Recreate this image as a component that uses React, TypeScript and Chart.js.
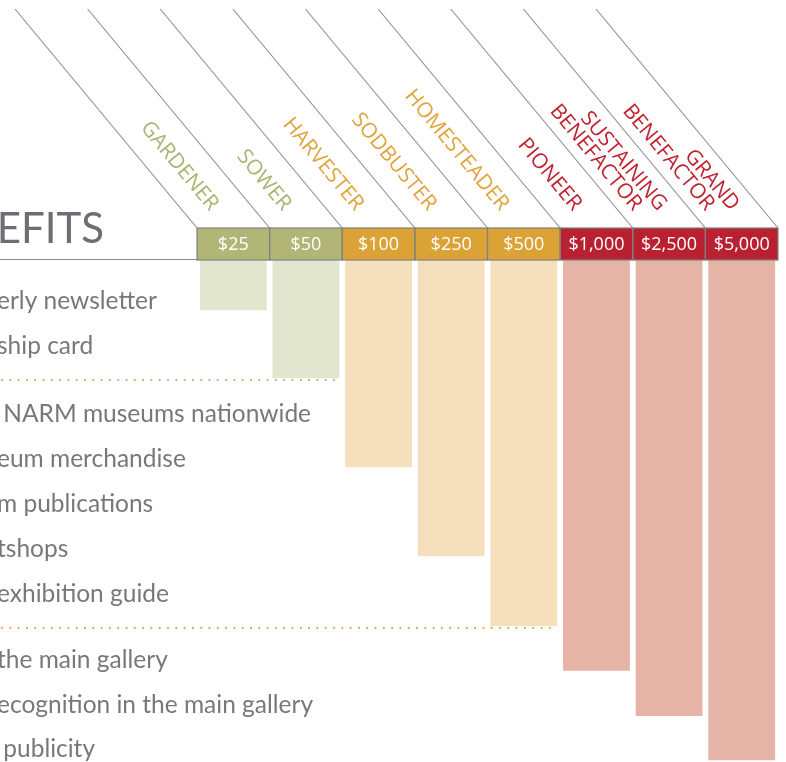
import React, { useEffect, useRef } from 'react';
import { Chart, registerables } from 'chart.js';

Chart.register(...registerables);

// ---- data ----
const tierNames = [
  'GARDENER',
  'SOWER',
  'HARVESTER',
  'SODBUSTER',
  'HOMESTEADER',
  'PIONEER',
  'SUSTAINING BENEFACTOR',
  'GRAND BENEFACTOR',
];
const tierPrices = ['$25', '$50', '$100', '$250', '$500', '$1,000', '$2,500', '$5,000'];
const tierGroups = [0, 0, 1, 1, 1, 2, 2, 2];
// depth of each tier's bar, in benefit-row units below the header
const barDepths = [1.1, 2.59, 4.54, 6.49, 8.02, 9.0, 9.99, 10.96];

const titleText = 'BENEFITS';
const benefitLabels = [
  'erly newsletter',
  'ship card',
  ' NARM museums nationwide',
  'eum merchandise',
  'm publications',
  'tshops',
  'exhibition guide',
  'the main gallery',
  'ecognition in the main gallery',
  ' publicity',
];
const benefitDepths = [1.07, 2.06, 3.55, 4.54, 5.52, 6.51, 7.49, 8.94, 9.93, 10.89];

const separatorDepths = [2.63, 8.06];
const separatorLastTier = [1, 4];
const separatorGroups = [0, 1];

// ---- styles ----
const headerColors = ['#b1b677', '#dba235', '#b92030'];
const barColors = ['#e3e6cf', '#f5dfbd', '#e6b4a7'];
const nameColors = ['#aab471', '#e0a43a', '#c1222f'];
const dotColors = ['#a9b46a', '#e0a43a'];
const BAR_PCT = 0.92;

const infographic = {
  id: 'infographic',
  afterDatasetsDraw(chart: any) {
    const { ctx, chartArea, scales } = chart;
    const x = scales.x;
    const y = scales.y;
    const n = tierNames.length;
    const colW = (chartArea.right - chartArea.left) / n;
    const top = chartArea.top;
    const headerH = 32;
    const headerTop = top - headerH;
    const rise = 219;
    const run = 182;
    const A = Math.atan2(rise, run);
    const cosA = Math.cos(A);
    const sinA = Math.sin(A);

    ctx.save();

    // baseline under title
    ctx.strokeStyle = '#8a8a8a';
    ctx.lineWidth = 1.2;
    ctx.beginPath();
    ctx.moveTo(0, top - 0.5);
    ctx.lineTo(chartArea.left, top - 0.5);
    ctx.stroke();

    // title
    ctx.fillStyle = '#6d6e73';
    ctx.font = '42px Lato';
    ctx.textAlign = 'right';
    ctx.textBaseline = 'alphabetic';
    ctx.fillText(titleText, 104, top - 17);

    // diagonal lines
    ctx.strokeStyle = '#8c8c8c';
    ctx.lineWidth = 1.1;
    for (let i = 0; i <= n; i++) {
      const bx = chartArea.left + i * colW;
      ctx.beginPath();
      ctx.moveTo(bx, headerTop);
      ctx.lineTo(bx - run, headerTop - rise);
      ctx.stroke();
    }

    // header boxes
    for (let i = 0; i < n; i++) {
      const left = x.getPixelForValue(i) - colW / 2;
      ctx.fillStyle = headerColors[tierGroups[i]];
      ctx.fillRect(left, headerTop, colW, headerH);
    }
    ctx.strokeStyle = '#808080';
    ctx.lineWidth = 1.2;
    for (let i = 0; i < n; i++) {
      const left = x.getPixelForValue(i) - colW / 2;
      ctx.strokeRect(left, headerTop, colW, headerH);
    }
    ctx.fillStyle = '#ffffff';
    ctx.font = '18px "Open Sans"';
    ctx.textAlign = 'center';
    ctx.textBaseline = 'middle';
    for (let i = 0; i < n; i++) {
      ctx.fillText(tierPrices[i], x.getPixelForValue(i), headerTop + headerH / 2 + 1);
    }

    // tier names along the diagonals
    ctx.font = '21px "Open Sans"';
    ctx.textAlign = 'right';
    ctx.textBaseline = 'middle';
    const pitch = 19;
    const sC = 26;
    const yEnd = headerTop - 20;
    for (let i = 0; i < n; i++) {
      const bx = chartArea.left + i * colW;
      const lines = tierNames[i].split(' ');
      const nl = lines.length;
      ctx.fillStyle = nameColors[tierGroups[i]];
      for (let j = 0; j < nl; j++) {
        const s = sC + ((nl - 1) / 2 - j) * pitch;
        const t = (yEnd - headerTop + s * cosA) / sinA;
        const ex = bx + t * cosA + s * sinA;
        const ey = headerTop + t * sinA - s * cosA;
        ctx.save();
        ctx.translate(ex, ey);
        ctx.rotate(A);
        ctx.fillText(lines[j], 0, 0);
        ctx.restore();
      }
    }

    // benefit rows
    ctx.fillStyle = '#77787b';
    ctx.font = '24.5px Lato';
    ctx.textAlign = 'left';
    ctx.textBaseline = 'alphabetic';
    benefitLabels.forEach((label, k) => {
      ctx.fillText(label, -3, y.getPixelForValue(benefitDepths[k]));
    });

    // dotted separators
    ctx.lineCap = 'round';
    ctx.lineWidth = 2.2;
    ctx.setLineDash([0, 8.3]);
    separatorDepths.forEach((d, k) => {
      const py = y.getPixelForValue(d);
      const endX = x.getPixelForValue(separatorLastTier[k]) + (colW * BAR_PCT) / 2;
      ctx.strokeStyle = dotColors[separatorGroups[k]];
      ctx.beginPath();
      ctx.moveTo(2, py);
      ctx.lineTo(endX, py);
      ctx.stroke();
    });
    ctx.setLineDash([]);

    ctx.restore();
  },
};

export default function App() {
  const ref = useRef<HTMLCanvasElement>(null);
  useEffect(() => {
    const chart = new Chart(ref.current as HTMLCanvasElement, {
      type: 'bar',
      data: {
        labels: tierNames,
        datasets: [
          {
            data: barDepths,
            backgroundColor: tierGroups.map((g) => barColors[g]),
            borderWidth: 0,
            barPercentage: BAR_PCT,
            categoryPercentage: 1,
          },
        ],
      },
      options: {
        responsive: false,
        animation: false,
        devicePixelRatio: 1,
        layout: { padding: { left: 197, right: 8, top: 260, bottom: 0 } },
        scales: {
          x: { display: false },
          y: { display: false, reverse: true, min: 0, max: 11 },
        },
        plugins: { legend: { display: false }, tooltip: { enabled: false } },
      },
      plugins: [infographic],
    });
    return () => chart.destroy();
  }, []);
  return (
    <div style={{ position: 'fixed', left: 0, top: 0, width: 786, height: 762, background: '#fff' }}>
      <canvas ref={ref} width={786} height={762} style={{ display: 'block' }} />
    </div>
  );
}
